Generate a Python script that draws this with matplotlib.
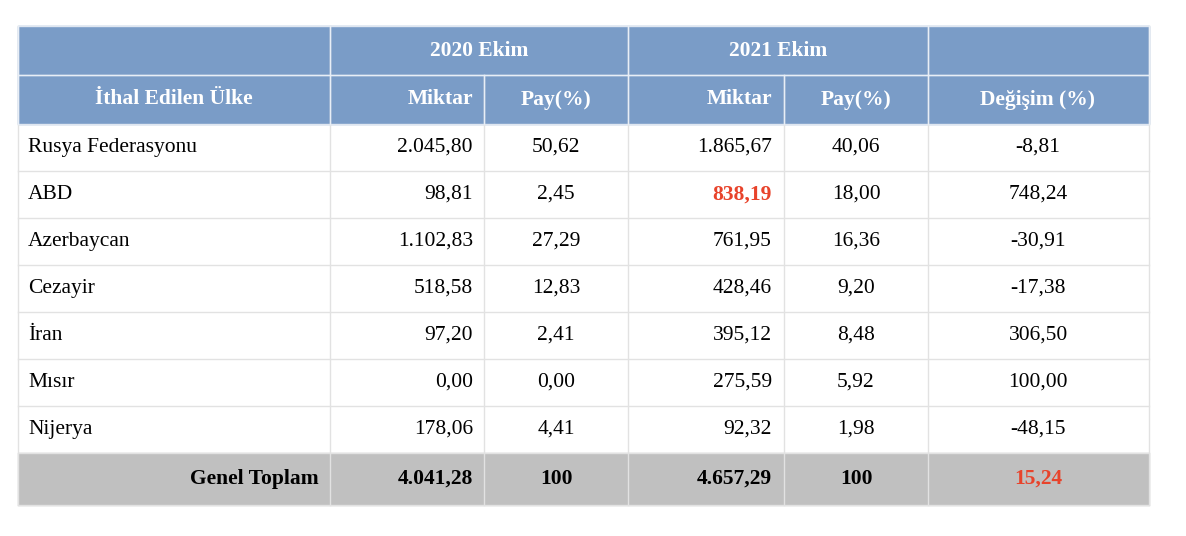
import matplotlib
matplotlib.use("Agg")
import matplotlib.pyplot as plt
from matplotlib.patches import Rectangle

countries = ["Rusya Federasyonu", "ABD", "Azerbaycan", "Cezayir", "İran", "Mısır", "Nijerya"]
miktar_2020 = ["2.045,80", "98,81", "1.102,83", "518,58", "97,20", "0,00", "178,06"]
pay_2020 = ["50,62", "2,45", "27,29", "12,83", "2,41", "0,00", "4,41"]
miktar_2021 = ["1.865,67", "838,19", "761,95", "428,46", "395,12", "275,59", "92,32"]
pay_2021 = ["40,06", "18,00", "16,36", "9,20", "8,48", "5,92", "1,98"]
degisim = ["-8,81", "748,24", "-30,91", "-17,38", "306,50", "100,00", "-48,15"]
total = ["Genel Toplam", "4.041,28", "100", "4.657,29", "100", "15,24"]

W, H = 1186, 536
fig = plt.figure(figsize=(W/100, H/100), dpi=100)
ax = fig.add_axes([0, 0, 1, 1])
ax.set_xlim(0, W); ax.set_ylim(H, 0); ax.axis("off")
plt.rcParams['font.family'] = ['Liberation Serif', 'DejaVu Serif']

cols = [18, 330, 484, 628, 784, 928, 1149]
rows = [26, 75, 124] + [124 + 47*(i+1) for i in range(7)] + [505]
hdr = "#7a9cc7"; gray = "#c0c0c0"; red = "#e8432b"; line = "#e2e2e2"
fs = 15.5

ax.add_patch(Rectangle((cols[0], rows[0]), cols[-1]-cols[0], rows[2]-rows[0], color=hdr, zorder=0))
ax.add_patch(Rectangle((cols[0], rows[-2]), cols[-1]-cols[0], rows[-1]-rows[-2], color=gray, zorder=0))
# grid
for y in rows:
    ax.plot([cols[0], cols[-1]], [y, y], color=line if y not in (26, 75, 124) else "#dfe6f0", lw=1, zorder=1)
for i, x in enumerate(cols):
    segs = [(rows[0], rows[-1])]
    if x in (484, 784):
        segs = [(rows[1], rows[-1])]
    for a, b in segs:
        ax.plot([x, x], [a, b], color="white" if False else line, lw=1, zorder=1)
# header vertical lines white
for x in cols:
    a = rows[1] if x in (484, 784) else rows[0]
    ax.plot([x, x], [a, rows[2]], color="#e8eef6", lw=1, zorder=2)
ax.plot([cols[0], cols[-1]], [rows[1], rows[1]], color="#e8eef6", lw=1, zorder=2)

def cy(r):
    return (rows[r] + rows[r+1]) / 2

kw = dict(fontsize=fs, va="center", zorder=3)
hk = dict(kw, color="white", fontweight="bold")
ax.text((330+628)/2, cy(0), "2020 Ekim", ha="center", **hk)
ax.text((628+928)/2, cy(0), "2021 Ekim", ha="center", **hk)
ax.text(174, cy(1), "İthal Edilen Ülke", ha="center", **hk)
ax.text(473, cy(1), "Miktar", ha="right", **hk)
ax.text(556, cy(1), "Pay(%)", ha="center", **hk)
ax.text(772, cy(1), "Miktar", ha="right", **hk)
ax.text(856, cy(1), "Pay(%)", ha="center", **hk)
ax.text(1038, cy(1), "Değişim (%)", ha="center", **hk)

for i in range(len(countries)):
    r = i + 2
    ax.text(28, cy(r), countries[i], ha="left", color="black", **kw)
    ax.text(473, cy(r), miktar_2020[i], ha="right", color="black", **kw)
    ax.text(556, cy(r), pay_2020[i], ha="center", color="black", **kw)
    if countries[i] == "ABD":
        ax.text(772, cy(r), miktar_2021[i], ha="right", color=red, fontweight="bold", **kw)
    else:
        ax.text(772, cy(r), miktar_2021[i], ha="right", color="black", **kw)
    ax.text(856, cy(r), pay_2021[i], ha="center", color="black", **kw)
    ax.text(1038, cy(r), degisim[i], ha="center", color="black", **kw)

r = 9
bk = dict(kw, fontweight="bold")
ax.text(319, cy(r), total[0], ha="right", color="black", **bk)
ax.text(473, cy(r), total[1], ha="right", color="black", **bk)
ax.text(556, cy(r), total[2], ha="center", color="black", **bk)
ax.text(772, cy(r), total[3], ha="right", color="black", **bk)
ax.text(856, cy(r), total[4], ha="center", color="black", **bk)
ax.text(1038, cy(r), total[5], ha="center", color=red, **bk)

fig.savefig("out.png", dpi=100)
